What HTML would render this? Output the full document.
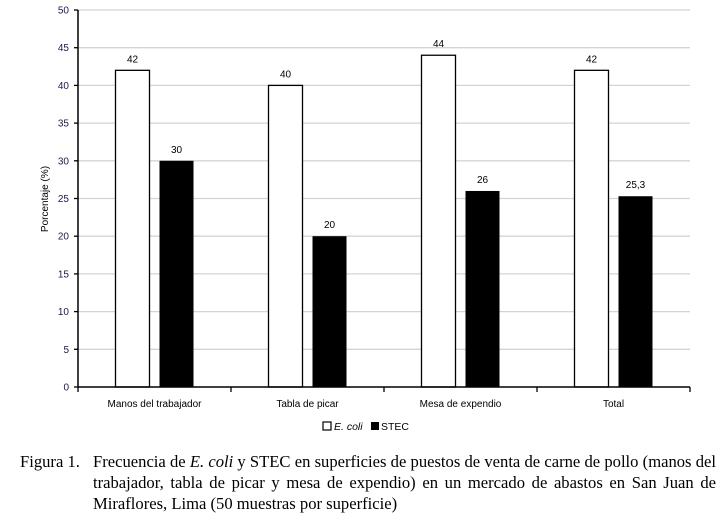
<!DOCTYPE html>
<html><head><meta charset="utf-8"><style>
body{margin:0;background:#fff;width:725px;height:532px;overflow:hidden;font-family:"Liberation Sans",sans-serif}
.cap{position:absolute;left:20px;top:451px;width:700px;font-family:"Liberation Serif",serif;font-size:16.6px;line-height:21px;color:#000}
.cap .lab{position:absolute;left:0;top:0}
.cap .txt{position:absolute;left:73px;top:0;width:623px;text-align:justify}
</style></head><body>
<svg width="725" height="440" style="position:absolute;left:0;top:0">
<g id="grid"></g><g id="bars"></g><g id="axes"></g>
<text transform="translate(48,199) rotate(-90)" text-anchor="middle" font-size="10" fill="#000">Porcentaje (%)</text>
<g>
<rect x="323" y="422" width="8" height="8" fill="#fff" stroke="#000" stroke-width="1.2"/>
<text x="334" y="430" font-size="10.5" font-style="italic">E. coli</text>
<rect x="371" y="422" width="8" height="8" fill="#000"/>
<text x="381" y="430" font-size="10.5">STEC</text>
</g>
</svg>
<div class="cap"><span class="lab">Figura 1.</span><div class="txt">Frecuencia de <i>E. coli</i> y STEC en superficies de puestos de venta de carne de pollo (manos del trabajador, tabla de picar y mesa de expendio) en un mercado de abastos en San Juan de Miraflores, Lima (50 muestras por superficie)</div></div>
<script>
const categories=["Manos del trabajador","Tabla de picar","Mesa de expendio","Total"];
const ecoli=[42,40,44,42];
const stec=[30,20,26,25.3];
const yTicks=[0,5,10,15,20,25,30,35,40,45,50];
const NS="http://www.w3.org/2000/svg";
const x0=78,x1=690,y0=387,yTop=10,ymax=50;
const cw=(x1-x0)/categories.length;
const Y=v=>y0-(v/ymax)*(y0-yTop);
const X=i=>x0+cw*(i+0.5);
function mk(parent,tag,attrs){const e=document.createElementNS(NS,tag);for(const k in attrs)e.setAttribute(k,attrs[k]);document.getElementById(parent).appendChild(e);return e;}
yTicks.forEach(t=>{
 if(t>0){const g=mk('grid','line',{x1:x0,x2:x1,y1:Y(t),y2:Y(t),stroke:'#d4d4d4','stroke-width':1.3});
 
 }
 const tk=mk('axes','line',{x1:x0-4,x2:x0,y1:Y(t),y2:Y(t),stroke:'#000','stroke-width':1.3});
 
 
 const tl=mk('axes','text',{x:x0-9,y:Y(t)+3.5,'text-anchor':'end','font-size':10,fill:'#1a1a4a'});
 tl.textContent=t;
 
 
});
categories.forEach((c,i)=>{
 const cx=X(i);
 const b1=mk('bars','rect',{x:cx-39,y:Y(ecoli[i]),width:34,height:y0-Y(ecoli[i]),fill:'#fff',stroke:'#000','stroke-width':1.3});
 
 
 const b2=mk('bars','rect',{x:cx+5,y:Y(stec[i]),width:34,height:y0-Y(stec[i]),fill:'#000'});
 
 
 const l1=mk('bars','text',{x:cx-22,y:Y(ecoli[i])-8,'text-anchor':'middle','font-size':10});
 l1.textContent=String(ecoli[i]).replace('.',',');
 
 
 const l2=mk('bars','text',{x:cx+22,y:Y(stec[i])-8,'text-anchor':'middle','font-size':10});
 l2.textContent=String(stec[i]).replace('.',',');
 
 
 const cl=mk('axes','text',{x:cx,y:407,'text-anchor':'middle','font-size':10});
 cl.textContent=c;
 
 
});
for(let i=0;i<=categories.length;i++){
 const t=mk('axes','line',{x1:x0+cw*i,x2:x0+cw*i,y1:y0,y2:y0+5,stroke:'#000','stroke-width':1.3});
 
 
}
const ya=mk('axes','line',{x1:x0,x2:x0,y1:yTop,y2:y0,stroke:'#000','stroke-width':1.5});


const xa=mk('axes','line',{x1:x0,x2:x1,y1:y0,y2:y0,stroke:'#000','stroke-width':1.5});


</script>
</body></html>
